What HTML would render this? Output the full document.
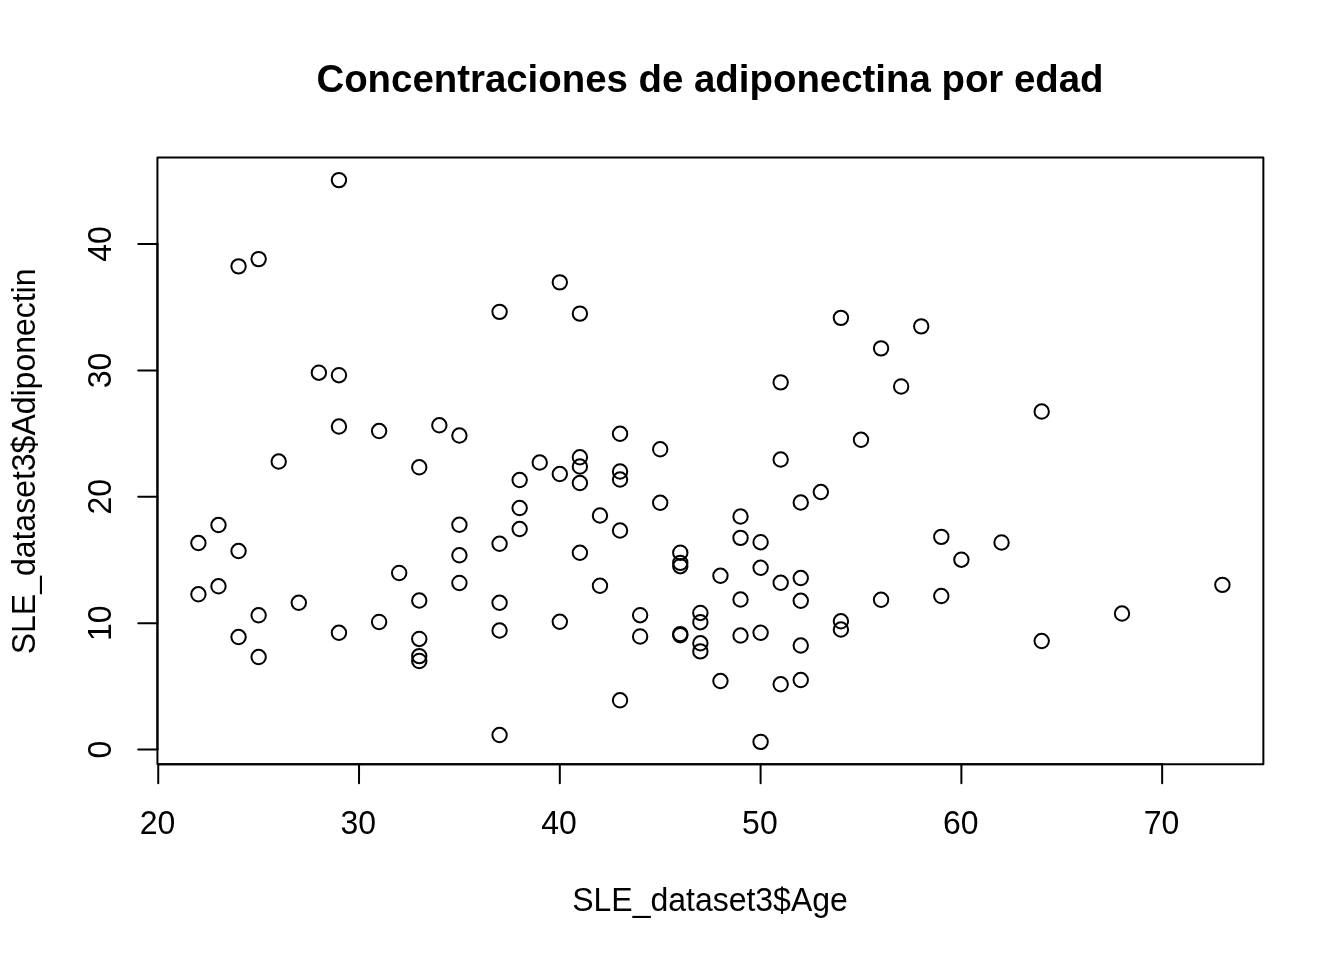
<!DOCTYPE html>
<html lang="es">
<head>
<meta charset="utf-8">
<title>Concentraciones de adiponectina por edad</title>
<style>
html,body{margin:0;padding:0;background:#fff;}
body{width:1344px;height:960px;overflow:hidden;}
svg{display:block;}
text{font-family:"Liberation Sans",sans-serif;fill:#000;}
.t{font-size:32px;}
.main{font-size:38.4px;font-weight:bold;}
.ln{stroke:#000;stroke-width:2;stroke-linecap:round;stroke-linejoin:round;fill:none;}
.pt circle{stroke:#000;stroke-width:2;fill:none;}
</style>
</head>
<body>
<svg width="1344" height="960" viewBox="0 0 1344 960">
<rect x="0" y="0" width="1344" height="960" fill="#ffffff"/>

<g class="pt">
<circle cx="338.95" cy="180.10" r="7.2"/>
<circle cx="238.56" cy="266.35" r="7.2"/>
<circle cx="258.64" cy="259.10" r="7.2"/>
<circle cx="318.87" cy="372.70" r="7.2"/>
<circle cx="338.95" cy="375.20" r="7.2"/>
<circle cx="559.81" cy="282.35" r="7.2"/>
<circle cx="499.58" cy="311.85" r="7.2"/>
<circle cx="579.89" cy="313.60" r="7.2"/>
<circle cx="840.91" cy="317.85" r="7.2"/>
<circle cx="921.22" cy="326.35" r="7.2"/>
<circle cx="881.07" cy="348.35" r="7.2"/>
<circle cx="780.67" cy="382.35" r="7.2"/>
<circle cx="901.15" cy="386.50" r="7.2"/>
<circle cx="338.95" cy="426.55" r="7.2"/>
<circle cx="379.11" cy="431.05" r="7.2"/>
<circle cx="439.34" cy="425.30" r="7.2"/>
<circle cx="459.42" cy="435.55" r="7.2"/>
<circle cx="278.71" cy="461.55" r="7.2"/>
<circle cx="419.26" cy="467.30" r="7.2"/>
<circle cx="218.48" cy="525.05" r="7.2"/>
<circle cx="198.40" cy="543.05" r="7.2"/>
<circle cx="238.56" cy="551.05" r="7.2"/>
<circle cx="459.42" cy="524.80" r="7.2"/>
<circle cx="459.42" cy="555.30" r="7.2"/>
<circle cx="399.18" cy="573.00" r="7.2"/>
<circle cx="459.42" cy="583.00" r="7.2"/>
<circle cx="218.48" cy="586.30" r="7.2"/>
<circle cx="198.40" cy="594.30" r="7.2"/>
<circle cx="620.05" cy="433.80" r="7.2"/>
<circle cx="660.20" cy="449.30" r="7.2"/>
<circle cx="579.89" cy="457.30" r="7.2"/>
<circle cx="579.89" cy="466.55" r="7.2"/>
<circle cx="539.73" cy="462.55" r="7.2"/>
<circle cx="559.81" cy="474.05" r="7.2"/>
<circle cx="519.65" cy="480.05" r="7.2"/>
<circle cx="579.89" cy="483.05" r="7.2"/>
<circle cx="620.05" cy="471.55" r="7.2"/>
<circle cx="620.05" cy="479.55" r="7.2"/>
<circle cx="519.65" cy="508.05" r="7.2"/>
<circle cx="660.20" cy="502.80" r="7.2"/>
<circle cx="599.97" cy="515.55" r="7.2"/>
<circle cx="519.65" cy="529.05" r="7.2"/>
<circle cx="620.05" cy="530.55" r="7.2"/>
<circle cx="499.58" cy="543.80" r="7.2"/>
<circle cx="740.52" cy="516.55" r="7.2"/>
<circle cx="740.52" cy="537.90" r="7.2"/>
<circle cx="760.60" cy="542.20" r="7.2"/>
<circle cx="579.89" cy="552.80" r="7.2"/>
<circle cx="680.28" cy="552.70" r="7.2"/>
<circle cx="680.28" cy="562.90" r="7.2"/>
<circle cx="680.28" cy="566.20" r="7.2"/>
<circle cx="720.44" cy="575.80" r="7.2"/>
<circle cx="760.60" cy="567.80" r="7.2"/>
<circle cx="599.97" cy="585.80" r="7.2"/>
<circle cx="1041.69" cy="411.55" r="7.2"/>
<circle cx="860.99" cy="439.80" r="7.2"/>
<circle cx="780.67" cy="459.55" r="7.2"/>
<circle cx="820.83" cy="492.05" r="7.2"/>
<circle cx="800.75" cy="502.55" r="7.2"/>
<circle cx="941.30" cy="536.90" r="7.2"/>
<circle cx="1001.54" cy="542.50" r="7.2"/>
<circle cx="961.38" cy="559.70" r="7.2"/>
<circle cx="800.75" cy="578.05" r="7.2"/>
<circle cx="780.67" cy="582.80" r="7.2"/>
<circle cx="1222.40" cy="584.90" r="7.2"/>
<circle cx="298.79" cy="602.80" r="7.2"/>
<circle cx="258.64" cy="615.30" r="7.2"/>
<circle cx="238.56" cy="637.05" r="7.2"/>
<circle cx="258.64" cy="657.05" r="7.2"/>
<circle cx="338.95" cy="632.80" r="7.2"/>
<circle cx="379.11" cy="622.00" r="7.2"/>
<circle cx="419.26" cy="600.55" r="7.2"/>
<circle cx="419.26" cy="638.95" r="7.2"/>
<circle cx="419.26" cy="656.10" r="7.2"/>
<circle cx="419.26" cy="661.00" r="7.2"/>
<circle cx="499.58" cy="602.80" r="7.2"/>
<circle cx="499.58" cy="630.55" r="7.2"/>
<circle cx="559.81" cy="621.80" r="7.2"/>
<circle cx="640.13" cy="615.20" r="7.2"/>
<circle cx="640.13" cy="636.50" r="7.2"/>
<circle cx="680.28" cy="634.10" r="7.2"/>
<circle cx="680.28" cy="635.20" r="7.2"/>
<circle cx="700.36" cy="612.95" r="7.2"/>
<circle cx="700.36" cy="622.20" r="7.2"/>
<circle cx="700.36" cy="643.30" r="7.2"/>
<circle cx="700.36" cy="651.40" r="7.2"/>
<circle cx="740.52" cy="599.55" r="7.2"/>
<circle cx="740.52" cy="635.55" r="7.2"/>
<circle cx="760.60" cy="632.80" r="7.2"/>
<circle cx="720.44" cy="681.05" r="7.2"/>
<circle cx="620.05" cy="700.30" r="7.2"/>
<circle cx="499.58" cy="735.05" r="7.2"/>
<circle cx="760.60" cy="741.90" r="7.2"/>
<circle cx="800.75" cy="600.80" r="7.2"/>
<circle cx="881.07" cy="599.80" r="7.2"/>
<circle cx="941.30" cy="596.05" r="7.2"/>
<circle cx="840.91" cy="621.30" r="7.2"/>
<circle cx="840.91" cy="629.55" r="7.2"/>
<circle cx="800.75" cy="645.55" r="7.2"/>
<circle cx="1041.69" cy="641.05" r="7.2"/>
<circle cx="780.67" cy="684.30" r="7.2"/>
<circle cx="800.75" cy="680.05" r="7.2"/>
<circle cx="1122.01" cy="613.55" r="7.2"/>
</g>
<g class="ln">
<path d="M157.44 764.16H1263.36V157.44H157.44Z"/>
<path d="M158.24 764.16H1162.16"/>
<path d="M158.24 764.16v19.2"/>
<path d="M359.03 764.16v19.2"/>
<path d="M559.81 764.16v19.2"/>
<path d="M760.60 764.16v19.2"/>
<path d="M961.38 764.16v19.2"/>
<path d="M1162.16 764.16v19.2"/>
<path d="M157.44 749.60V244.00"/>
<path d="M157.44 749.60h-19.2"/>
<path d="M157.44 623.20h-19.2"/>
<path d="M157.44 496.80h-19.2"/>
<path d="M157.44 370.40h-19.2"/>
<path d="M157.44 244.00h-19.2"/>
</g>
<text class="t" transform="translate(157.54 834.1) scale(1 1.04)" text-anchor="middle">20</text>
<text class="t" transform="translate(358.33 834.1) scale(1 1.04)" text-anchor="middle">30</text>
<text class="t" transform="translate(559.11 834.1) scale(1 1.04)" text-anchor="middle">40</text>
<text class="t" transform="translate(759.90 834.1) scale(1 1.04)" text-anchor="middle">50</text>
<text class="t" transform="translate(960.68 834.1) scale(1 1.04)" text-anchor="middle">60</text>
<text class="t" transform="translate(1161.46 834.1) scale(1 1.04)" text-anchor="middle">70</text>
<text class="t" transform="translate(111.1 749.60) rotate(-90) scale(1 1.04)" text-anchor="middle">0</text>
<text class="t" transform="translate(111.1 623.20) rotate(-90) scale(1 1.04)" text-anchor="middle">10</text>
<text class="t" transform="translate(111.1 496.80) rotate(-90) scale(1 1.04)" text-anchor="middle">20</text>
<text class="t" transform="translate(111.1 370.40) rotate(-90) scale(1 1.04)" text-anchor="middle">30</text>
<text class="t" transform="translate(111.1 244.00) rotate(-90) scale(1 1.04)" text-anchor="middle">40</text>
<text class="main" x="710" y="92.4" text-anchor="middle">Concentraciones de adiponectina por edad</text>
<text class="t" transform="translate(710.0 911.0) scale(1 1.04)" text-anchor="middle">SLE_dataset3$Age</text>
<text class="t" transform="translate(34.5 461.4) rotate(-90) scale(1 1.04)" text-anchor="middle">SLE_dataset3$Adiponectin</text>
</svg>
</body>
</html>
